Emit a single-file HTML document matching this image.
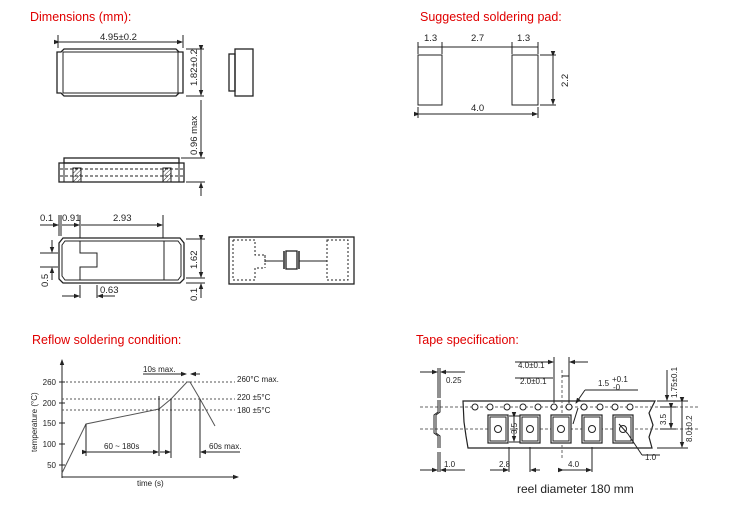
<!DOCTYPE html>
<html><head><meta charset="utf-8"><style>
body{margin:0;background:#fff;}
svg{display:block;font-family:"Liberation Sans",sans-serif;}
.t{fill:#e00000;font-size:12.5px;}
.d{font-size:9.5px;fill:#222;}
.s{font-size:8px;fill:#222;}
</style></head><body>
<svg width="731" height="511" viewBox="0 0 731 511" xmlns="http://www.w3.org/2000/svg">
<defs>
<marker id="a" markerWidth="6" markerHeight="6" refX="5" refY="3" orient="auto"><path d="M0,0.8 L6,3 L0,5.2z" fill="#222"/></marker>
<pattern id="h" width="3" height="3" patternUnits="userSpaceOnUse" patternTransform="rotate(45)"><line x1="0" y1="0" x2="0" y2="3" stroke="#333" stroke-width="1"/></pattern>
</defs>
<text x="30" y="21" class="t">Dimensions (mm):</text>
<text x="420" y="21" class="t">Suggested soldering pad:</text>
<text x="32" y="344" class="t">Reflow soldering condition:</text>
<text x="416" y="344" class="t">Tape specification:</text>

<g stroke="#222" fill="none" stroke-width="1">
<path d="M57,52 h4 l3,-3 h112 l3,3 h4 v41 h-4 l-3,3 h-112 l-3,-3 h-4z" stroke-width="1.3"/>
<rect x="63" y="52" width="115" height="41"/>
<line x1="58" y1="35" x2="58" y2="48"/><line x1="183" y1="35" x2="183" y2="48"/>
<line x1="59" y1="42" x2="182" y2="42" marker-end="url(#a)" marker-start="url(#a)"/>
<line x1="186" y1="49" x2="204" y2="49"/><line x1="186" y1="96" x2="204" y2="96"/>
<line x1="201" y1="50" x2="201" y2="95" marker-end="url(#a)" marker-start="url(#a)"/>
<rect x="235" y="49" width="18" height="47" stroke-width="1.3"/>
<rect x="229" y="54" width="6" height="37" stroke-width="1.3"/>
<rect x="64" y="158" width="115" height="5" stroke-width="1.3"/>
<rect x="59" y="163" width="125" height="19" stroke-width="1.3"/>
<line x1="64" y1="163" x2="64" y2="182"/><line x1="179" y1="163" x2="179" y2="182"/>
<line x1="60" y1="169" x2="183" y2="169" stroke-dasharray="3,2"/>
<line x1="60" y1="176" x2="183" y2="176" stroke-dasharray="3,2"/>
<rect x="73" y="168" width="8" height="14" fill="url(#h)"/>
<rect x="163" y="168" width="8" height="14" fill="url(#h)"/>
<line x1="181" y1="158" x2="205" y2="158"/><line x1="186" y1="182" x2="205" y2="182"/>
<line x1="201" y1="100" x2="201" y2="157" marker-end="url(#a)"/>
<line x1="201" y1="196" x2="201" y2="183" marker-end="url(#a)"/>
<path d="M59,243 l4,-5 h117 l4,5 v36 l-4,4 h-117 l-4,-4z" stroke-width="1.3"/>
<path d="M62,245 l3,-4 h113 l3,4 v31 l-3,4 h-113 l-3,-4z"/>
<path d="M80,241 v12 h17 v14 h-17 v13"/>
<line x1="164" y1="241" x2="164" y2="280"/>
<line x1="59" y1="215" x2="59" y2="236"/><line x1="61" y1="215" x2="61" y2="236"/>
<line x1="80" y1="215" x2="80" y2="238"/><line x1="163" y1="215" x2="163" y2="238"/>
<line x1="40" y1="225" x2="58" y2="225" marker-end="url(#a)"/>
<line x1="62" y1="225" x2="79" y2="225" marker-end="url(#a)"/>
<line x1="81" y1="225" x2="162" y2="225" marker-end="url(#a)"/>
<line x1="186" y1="239" x2="205" y2="239"/><line x1="186" y1="278" x2="205" y2="278"/>
<line x1="201" y1="240" x2="201" y2="277" marker-end="url(#a)" marker-start="url(#a)"/>
<line x1="186" y1="283" x2="205" y2="283"/>
<line x1="201" y1="298" x2="201" y2="284" marker-end="url(#a)"/>
<line x1="40" y1="253" x2="58" y2="253"/><line x1="40" y1="267" x2="58" y2="267"/>
<line x1="52" y1="240" x2="52" y2="252" marker-end="url(#a)"/>
<line x1="52" y1="280" x2="52" y2="268" marker-end="url(#a)"/>
<line x1="80" y1="285" x2="80" y2="298"/><line x1="97" y1="285" x2="97" y2="298"/>
<line x1="62" y1="296" x2="79" y2="296" marker-end="url(#a)"/>
<line x1="115" y1="296" x2="98" y2="296" marker-end="url(#a)"/>
<rect x="229" y="237" width="125" height="47" stroke-width="1.3"/>
<path d="M233,240 h22 v15 h10 v7 M233,240 v40 h22 v-12 h10" stroke-dasharray="2,2"/>
<path d="M265,255 v13" stroke-dasharray="2,2"/>
<rect x="327" y="240" width="21" height="40" stroke-dasharray="2,2"/>
<line x1="265" y1="261" x2="283" y2="261"/><line x1="299" y1="261" x2="327" y2="261"/>
<rect x="286" y="251" width="11" height="18" stroke-width="1.3"/>
<line x1="284" y1="251" x2="284" y2="269" stroke-width="1.5"/><line x1="299" y1="251" x2="299" y2="269" stroke-width="1.5"/>
<rect x="418" y="55" width="24" height="50"/>
<rect x="512" y="55" width="26" height="50"/>
<line x1="418" y1="42" x2="418" y2="54"/><line x1="442" y1="42" x2="442" y2="54"/>
<line x1="512" y1="42" x2="512" y2="54"/><line x1="538" y1="42" x2="538" y2="54"/>
<line x1="418" y1="47" x2="538" y2="47"/>
<line x1="540" y1="55" x2="556" y2="55"/><line x1="540" y1="105" x2="556" y2="105"/>
<line x1="553" y1="56" x2="553" y2="104" marker-end="url(#a)" marker-start="url(#a)"/>
<line x1="418" y1="107" x2="418" y2="118"/><line x1="538" y1="107" x2="538" y2="118"/>
<line x1="419" y1="114" x2="537" y2="114" marker-end="url(#a)" marker-start="url(#a)"/>
<line x1="62" y1="478" x2="62" y2="360" marker-end="url(#a)"/>
<line x1="62" y1="477" x2="238" y2="477" marker-end="url(#a)"/>
<g stroke-dasharray="2,2" stroke="#555"><line x1="62" y1="382" x2="235" y2="382"/><line x1="62" y1="399" x2="235" y2="399"/><line x1="62" y1="410" x2="235" y2="410"/></g>
<g><line x1="59" y1="382" x2="65" y2="382"/><line x1="59" y1="403" x2="65" y2="403"/><line x1="59" y1="423" x2="65" y2="423"/><line x1="59" y1="444" x2="65" y2="444"/><line x1="59" y1="465" x2="65" y2="465"/></g>
<polyline points="62,473 86,424 159,409 171,399 187,382 190,382 200,399 215,426" stroke="#555"/>
<line x1="86" y1="424" x2="86" y2="456"/><line x1="159" y1="396" x2="159" y2="456"/>
<line x1="171" y1="399" x2="171" y2="458"/><line x1="200" y1="399" x2="200" y2="458"/>
<line x1="87" y1="452" x2="158" y2="452" marker-end="url(#a)" marker-start="url(#a)"/>
<line x1="160" y1="452" x2="170" y2="452" marker-end="url(#a)"/>
<line x1="240" y1="452" x2="201" y2="452" marker-end="url(#a)"/>
<line x1="143" y1="374" x2="186" y2="374" marker-end="url(#a)"/>
<line x1="200" y1="374" x2="191" y2="374" marker-end="url(#a)"/>
<path d="M463,401 h192 l-6,12 l4,12 l-4,12 l3,11 h-184 l-2,-12 l-2,-14z" stroke-width="1.2"/>
<g stroke-dasharray="3,2" stroke="#666"><line x1="420" y1="407" x2="700" y2="407"/><line x1="420" y1="429" x2="700" y2="429"/><line x1="562" y1="370" x2="562" y2="460"/></g>
<g fill="#fff"><circle cx="475" cy="407" r="3"/><circle cx="490" cy="407" r="3"/><circle cx="507" cy="407" r="3"/><circle cx="523" cy="407" r="3"/><circle cx="538" cy="407" r="3"/><circle cx="554" cy="407" r="3"/><circle cx="569" cy="407" r="3"/><circle cx="584" cy="407" r="3"/><circle cx="600" cy="407" r="3"/><circle cx="615" cy="407" r="3"/><circle cx="630" cy="407" r="3"/></g>
<g fill="#fff" stroke-width="1.2"><rect x="488" y="415" width="20" height="28"/><rect x="520" y="415" width="20" height="28"/><rect x="551" y="415" width="20" height="28"/><rect x="582" y="415" width="20" height="28"/><rect x="613" y="415" width="20" height="28"/></g>
<g><rect x="490" y="417" width="16" height="24"/><rect x="522" y="417" width="16" height="24"/><rect x="553" y="417" width="16" height="24"/><rect x="584" y="417" width="16" height="24"/><rect x="615" y="417" width="16" height="24"/>
<circle cx="498" cy="429" r="3.5"/><circle cx="530" cy="429" r="3.5"/><circle cx="561" cy="429" r="3.5"/><circle cx="592" cy="429" r="3.5"/><circle cx="623" cy="429" r="3.5"/></g>
<path d="M438,400 v12 l-4,3 v18 l4,3 v12 M440,400 v12 l-4,3 v18 l4,3 v12" stroke-width="1"/>
<line x1="420" y1="372" x2="437" y2="372" marker-end="url(#a)"/><line x1="465" y1="372" x2="441" y2="372" marker-end="url(#a)"/>
<line x1="438" y1="368" x2="438" y2="398"/><line x1="440" y1="368" x2="440" y2="398"/>
<line x1="438" y1="452" x2="438" y2="472"/><line x1="440" y1="452" x2="440" y2="472"/>
<line x1="420" y1="470" x2="437" y2="470" marker-end="url(#a)"/><line x1="465" y1="470" x2="441" y2="470" marker-end="url(#a)"/>
<line x1="554" y1="357" x2="554" y2="403"/><line x1="569" y1="357" x2="569" y2="403"/>
<line x1="515" y1="362" x2="553" y2="362" marker-end="url(#a)"/><line x1="588" y1="362" x2="570" y2="362" marker-end="url(#a)"/>
<line x1="515" y1="378" x2="553" y2="378"/>
<line x1="562" y1="376" x2="569" y2="376"/>
<line x1="585" y1="390" x2="638" y2="390"/><line x1="585" y1="390" x2="576" y2="403" marker-end="url(#a)"/>
<line x1="578" y1="408" x2="573" y2="424"/>
<line x1="509" y1="416" x2="520" y2="416"/><line x1="509" y1="442" x2="520" y2="442"/>
<line x1="514" y1="417" x2="514" y2="441" marker-end="url(#a)" marker-start="url(#a)"/>
<line x1="509" y1="447" x2="509" y2="472"/><line x1="530" y1="447" x2="530" y2="472"/><line x1="592" y1="447" x2="592" y2="472"/>
<line x1="490" y1="470" x2="508" y2="470" marker-end="url(#a)"/><line x1="540" y1="470" x2="531" y2="470" marker-end="url(#a)"/>
<line x1="563" y1="470" x2="591" y2="470" marker-end="url(#a)" marker-start="url(#a)"/>
<line x1="619" y1="424" x2="628" y2="434"/><line x1="628" y1="434" x2="642" y2="455"/><line x1="642" y1="455" x2="660" y2="455"/>
<line x1="657" y1="401" x2="688" y2="401"/><line x1="657" y1="448" x2="688" y2="448"/><line x1="660" y1="407" x2="676" y2="407"/><line x1="660" y1="429" x2="676" y2="429"/>
<line x1="682" y1="402" x2="682" y2="447" marker-end="url(#a)" marker-start="url(#a)"/>
<line x1="671" y1="408" x2="671" y2="428" marker-end="url(#a)" marker-start="url(#a)"/>
<line x1="667" y1="370" x2="667" y2="400" marker-end="url(#a)"/>
</g>
<g class="d">
<text x="100" y="40">4.95±0.2</text>
<text transform="translate(197,86) rotate(-90)">1.82±0.2</text>
<text transform="translate(197,155) rotate(-90)">0.96 max</text>
<text x="40" y="221">0.1</text><text x="62" y="221">0.91</text><text x="113" y="221">2.93</text>
<text transform="translate(197,269) rotate(-90)">1.62</text>
<text transform="translate(48,287) rotate(-90)">0.5</text>
<text x="100" y="293">0.63</text>
<text transform="translate(197,301) rotate(-90)">0.1</text>
<text x="424" y="41">1.3</text><text x="471" y="41">2.7</text><text x="517" y="41">1.3</text>
<text transform="translate(568,87) rotate(-90)">2.2</text>
<text x="471" y="111">4.0</text>
<text x="517" y="493" style="font-size:12px">reel diameter 180 mm</text>
</g>
<g class="s">
<text x="56" y="385" text-anchor="end">260</text><text x="56" y="406" text-anchor="end">200</text><text x="56" y="426" text-anchor="end">150</text><text x="56" y="447" text-anchor="end">100</text><text x="56" y="468" text-anchor="end">50</text>
<text transform="translate(37,452) rotate(-90)">temperature (°C)</text>
<text x="137" y="486">time (s)</text>
<text x="143" y="372">10s max.</text>
<text x="237" y="382">260°C max.</text><text x="237" y="400">220 ±5°C</text><text x="237" y="413">180 ±5°C</text>
<text x="104" y="449">60 ~ 180s</text><text x="209" y="449">60s max.</text>
<text x="446" y="383">0.25</text><text x="518" y="368">4.0±0.1</text><text x="520" y="384">2.0±0.1</text>
<text x="598" y="386">1.5</text><text x="612" y="382">+0.1</text><text x="613" y="390">-0</text>
<text transform="translate(517,434) rotate(-90)">3.5</text>
<text transform="translate(677,398) rotate(-90)">1.75±0.1</text>
<text transform="translate(692,442) rotate(-90)">8.0±0.2</text>
<text transform="translate(666,425) rotate(-90)">3.5</text>
<text x="645" y="460">1.0</text><text x="444" y="467">1.0</text><text x="499" y="467">2.8</text><text x="568" y="467">4.0</text>
</g>
</svg>
</body></html>
